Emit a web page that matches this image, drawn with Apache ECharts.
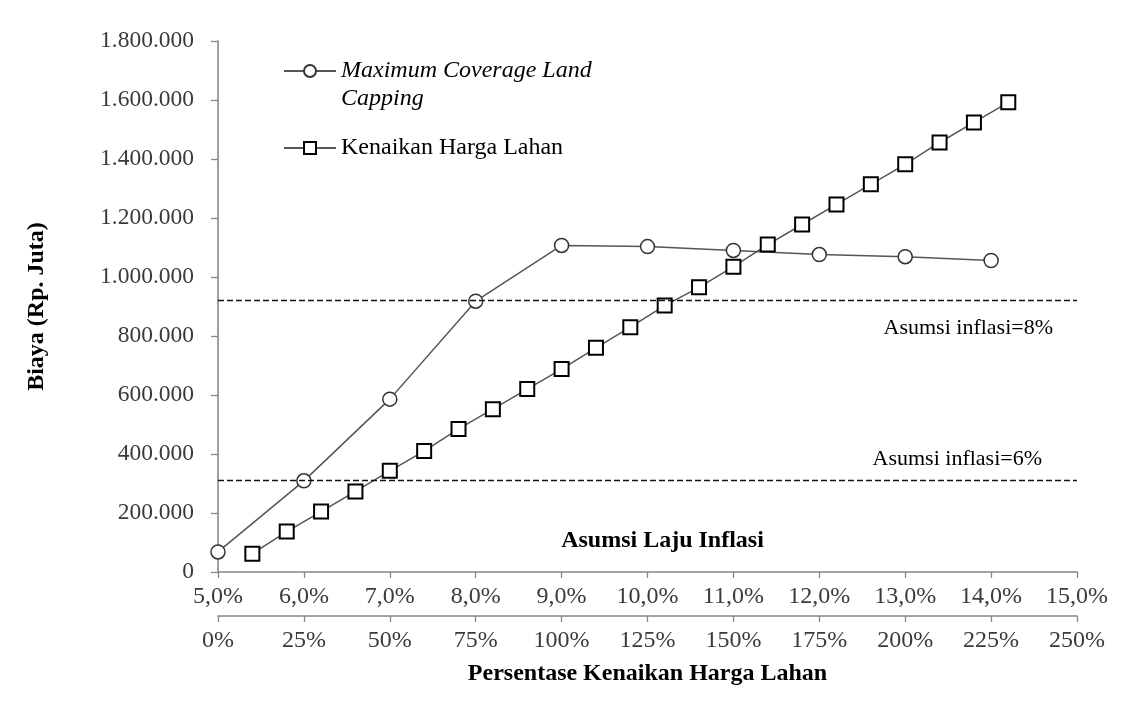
<!DOCTYPE html>
<html>
<head>
	<meta charset="utf-8">
	<title>Biaya vs Inflasi</title>
	<script type="text/javascript" src="https://cdn.jsdelivr.net/npm/echarts@6/dist/echarts.min.js"></script>
	<style>body{margin:0;background:#fff}</style>
</head>
<body>
	<div id="main" style="width:1136px;height:713px;"></div>
	<script type="text/javascript">
        // data
        var inflasi = [5, 6, 7, 8, 9, 10, 11, 12, 13, 14];
        var biayaCapping = [68000, 309000, 586000, 918000, 1107000, 1103000, 1090000, 1076000, 1069000, 1056000];
        var kenaikanLahan = [10, 20, 30, 40, 50, 60, 70, 80, 90, 100, 110, 120, 130, 140, 150, 160, 170, 180, 190, 200, 210, 220, 230];
        var biayaLahan = [62000, 137000, 205000, 273000, 343000, 410000, 485000, 552000, 620000, 688000, 760000, 830000,
            903000, 965000, 1035000, 1110000, 1178000, 1246000, 1314000, 1382000, 1456000, 1524000, 1592000];
        var garisInflasi = [311000, 922000];
        var labelInflasi = ['Asumsi inflasi=6%', 'Asumsi inflasi=8%'];

        var font = 'Liberation Serif';
        var axisGray = '#888';
        var textGray = '#3a3a3a';

        function pairs(xs, ys) {
            var out = [];
            for (var i = 0; i < xs.length; i++) out.push([xs[i], ys[i]]);
            return out;
        }

        function ribuan(v) {
            return String(v).replace(/\B(?=(\d{3})+(?!\d))/g, '.');
        }

        var myChart = echarts.init(document.getElementById('main'));

        var option = {
            animation: false,
            grid: {left: 218, right: 59, top: 41, bottom: 141},
            legend: {
                orient: 'vertical',
                left: 278,
                top: 26,
                itemWidth: 52,
                itemHeight: 15,
                itemGap: 25,
                textStyle: {
                    fontFamily: font,
                    fontSize: 24,
                    color: '#000',
                    rich: {
                        e: {fontSize: 24, lineHeight: 28, fontFamily: font},
                        i: {fontSize: 24, lineHeight: 28, fontStyle: 'italic', fontFamily: font, color: '#000'},
                        n: {fontSize: 24, lineHeight: 28, fontFamily: font, color: '#000'}
                    }
                },
                formatter: function (name) {
                    if (name === 'Maximum Coverage Land Capping') {
                        return '{e|\u00a0}\n{i|Maximum Coverage Land}\n{i|Capping}';
                    }
                    return '{n|' + name + '}';
                },
                data: ['Maximum Coverage Land Capping', 'Kenaikan Harga Lahan']
            },
            xAxis: [{
                type: 'value',
                min: 5,
                max: 15,
                interval: 1,
                position: 'bottom',
                name: 'Asumsi Laju Inflasi',
                nameLocation: 'middle',
                nameGap: -31,
                nameTextStyle: {
                    fontFamily: font, fontSize: 24, fontWeight: 'bold', color: '#000',
                    verticalAlign: 'middle', padding: [0, 0, 0, 30]
                },
                axisLine: {show: true, lineStyle: {color: axisGray, width: 1.6}},
                axisTick: {show: true, length: 6, lineStyle: {color: axisGray, width: 1.3}},
                splitLine: {show: false},
                axisLabel: {
                    fontFamily: font, fontSize: 24, color: textGray, margin: 13,
                    formatter: function (v) { return v.toFixed(1).replace('.', ',') + '%'; }
                }
            }, {
                type: 'value',
                min: 0,
                max: 250,
                interval: 25,
                position: 'bottom',
                offset: 44,
                name: 'Persentase Kenaikan Harga Lahan',
                nameLocation: 'middle',
                nameGap: 46,
                nameTextStyle: {fontFamily: font, fontSize: 24, fontWeight: 'bold', color: '#000'},
                axisLine: {show: true, lineStyle: {color: axisGray, width: 1.6}},
                axisTick: {show: true, length: 6, lineStyle: {color: axisGray, width: 1.3}},
                splitLine: {show: false},
                axisLabel: {
                    fontFamily: font, fontSize: 24, color: textGray, margin: 13,
                    formatter: function (v) { return v + '%'; }
                }
            }],
            yAxis: {
                type: 'value',
                min: 0,
                max: 1800000,
                interval: 200000,
                name: 'Biaya (Rp. Juta)',
                nameLocation: 'middle',
                nameGap: 169,
                nameTextStyle: {fontFamily: font, fontSize: 24, fontWeight: 'bold', color: '#000'},
                axisLine: {show: true, lineStyle: {color: axisGray, width: 1.6}},
                axisTick: {show: true, length: 7, lineStyle: {color: axisGray, width: 1.3}},
                splitLine: {show: false},
                axisLabel: {
                    fontFamily: font, fontSize: 23.5, color: textGray, margin: 24,
                    formatter: ribuan
                }
            },
            series: [{
                name: 'Maximum Coverage Land Capping',
                type: 'line',
                xAxisIndex: 0,
                data: pairs(inflasi, biayaCapping),
                symbol: 'circle',
                symbolSize: 14,
                lineStyle: {color: '#555', width: 1.5},
                itemStyle: {color: '#fff', borderColor: '#333', borderWidth: 1.5},
                markLine: {
                    silent: true,
                    symbol: ['none', 'none'],
                    lineStyle: {color: '#111', type: [6, 3], width: 1.3},
                    label: {fontFamily: font, fontSize: 22, color: '#000'},
                    data: [
                        {yAxis: garisInflasi[0], label: {formatter: labelInflasi[0], position: 'insideEndTop', distance: [35, 10]}},
                        {yAxis: garisInflasi[1], label: {formatter: labelInflasi[1], position: 'insideEndBottom', distance: [24, 17]}}
                    ]
                }
            }, {
                name: 'Kenaikan Harga Lahan',
                type: 'line',
                xAxisIndex: 1,
                data: pairs(kenaikanLahan, biayaLahan),
                symbol: 'rect',
                symbolSize: 14,
                lineStyle: {color: '#555', width: 1.5},
                itemStyle: {color: '#fff', borderColor: '#000', borderWidth: 2}
            }]
        };

        myChart.setOption(option);
	</script>
</body>
</html>
